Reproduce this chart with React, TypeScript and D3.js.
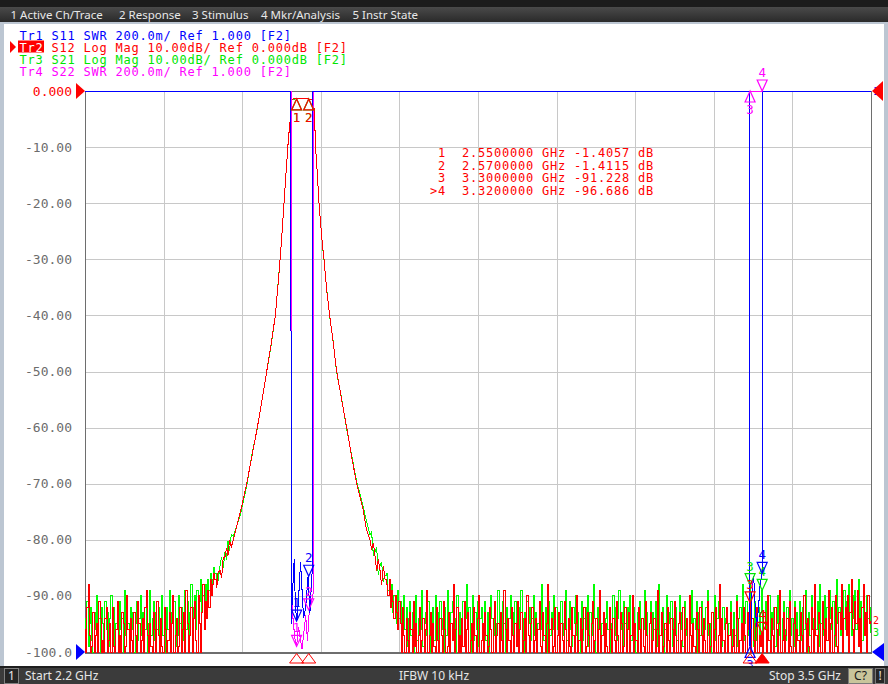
import React, { useEffect, useRef } from 'react';
import * as d3 from 'd3';

type Pt = [number, number];

// Stimulus settings
const startGHz = 2.2;
const stopGHz = 3.5;
const noiseStepGHz = 0.002;
const noiseLeftStartGHz = 2.2;
const noiseRightStartGHz = 2.7;

const menuItems = ['1 Active Ch/Trace', '2 Response', '3 Stimulus', '4 Mkr/Analysis', '5 Instr State'];

const traceHeaders = [
  { id: 'Tr1', text: ' S11 SWR 200.0m/ Ref 1.000 [F2]', color: '#0000ff' },
  { id: 'Tr2', text: ' S12 Log Mag 10.00dB/ Ref 0.000dB [F2]', color: '#ff0000' },
  { id: 'Tr3', text: ' S21 Log Mag 10.00dB/ Ref 0.000dB [F2]', color: '#00e600' },
  { id: 'Tr4', text: ' S22 SWR 200.0m/ Ref 1.000 [F2]', color: '#ff00ff' },
];

const yTickValues = [0, -10, -20, -30, -40, -50, -60, -70, -80, -90, -100];
const yTickLabels = ['0.000', '-10.00', '-20.00', '-30.00', '-40.00', '-50.00', '-60.00', '-70.00', '-80.00', '-90.00', '-100.0'];

// Filter skirt (GHz) shared by S12 / S21
const skirtFreqs = [
  2.418, 2.42, 2.4233, 2.426, 2.4285, 2.4316, 2.434, 2.4365, 2.439, 2.442, 2.4453,
  2.4564, 2.4675, 2.4757, 2.485, 2.4928, 2.5005, 2.5081, 2.5148, 2.5204, 2.5247, 2.5291, 2.5325, 2.5363, 2.5391,
  2.5407, 2.5424, 2.545, 2.55, 2.56, 2.57, 2.5763, 2.5776, 2.5792, 2.5816, 2.5842, 2.587, 2.5915, 2.5953, 2.5998,
  2.6047, 2.6107, 2.6163, 2.6246, 2.6329, 2.6411, 2.6494, 2.6603,
  2.665, 2.6714, 2.674, 2.677, 2.6797, 2.6825, 2.685, 2.6879, 2.6905, 2.6935, 2.6962,
];
const s12SkirtDb = [
  -88.5, -85.9, -85.4, -86.8, -83.2, -83, -81.4, -82.8, -80.1, -81.3, -80,
  -75.3, -70, -65.3, -60, -55.1, -50, -45, -40, -33.1, -27.1, -20, -14.6, -8.7, -5.5,
  -2.0, -1.45, -1.42, -1.4057, -1.4, -1.4115, -1.6, -2.2, -3.4, -10.5, -14.6, -20, -26, -30, -35.5,
  -40, -45, -50, -55.1, -60, -65.3, -70, -74.7,
  -77.9, -80, -81.8, -80.6, -83, -85.6, -83.4, -85.4, -88.1, -84.7, -87,
];
const s21SkirtDb = [
  -86.8, -87.4, -84.6, -83.1, -85.0, -82.2, -83.6, -80.2, -81.9, -79.0, -79.4,
  -75.8, -70.4, -65.0, -60.2, -55.0, -50.1, -45.2, -40.1, -33.0, -27.2, -20.1, -14.5, -8.8, -5.6,
  -2.1, -1.47, -1.44, -1.42, -1.41, -1.43, -1.62, -2.3, -3.5, -10.4, -14.7, -19.9, -26.1, -30.2, -35.4,
  -40.2, -44.8, -50.2, -54.9, -60.3, -65.0, -69.6, -74.2,
  -76.4, -79.2, -78.6, -82.8, -82.1, -81.5, -86.2, -84.6, -83.9, -87.5, -86.3,
];

// Noise floor below the passband (2.200 .. 2.416 GHz, 2 MHz apart)
const s12NoiseLeft = [
  -96, -100, -92, -88, -97, -100, -99, -93, -100, -97, -95, -100, -91, -94, -100, -98, -100, -94, -92, -100,
  -98, -95, -100, -92, -99, -100, -96, -91, -100, -97, -100, -93, -95, -100, -99, -90, -96, -100, -94, -98,
  -100, -93, -97, -100, -91, -95, -100, -98, -94, -100, -92, -89, -97, -100, -95, -99, -100, -93, -96, -100,
  -91, -97, -100, -94, -99, -100, -92, -96, -100, -98, -93, -100, -95, -90, -100, -97, -94, -100, -99, -92,
  -100, -96, -93, -100, -89, -95, -100, -97, -92, -100, -94, -91, -98, -100, -90, -95, -100, -93, -88, -96,
  -91, -94, -89, -92, -87, -90, -88, -86, -87,
];
const s21NoiseLeft = [
  -94, -97, -91, -99, -95, -92, -98, -100, -93, -96, -90, -97, -94, -100, -92, -95, -98, -91, -96, -93,
  -99, -94, -90, -97, -92, -100, -95, -93, -98, -91, -96, -94, -100, -89, -97, -93, -95, -99, -92, -96,
  -93, -100, -95, -91, -98, -94, -90, -97, -93, -99, -96, -92, -100, -95, -89, -97, -94, -91, -98, -93,
  -96, -92, -99, -94, -90, -97, -95, -100, -92, -96, -89, -98, -93, -95, -91, -99, -94, -97, -90, -95,
  -92, -98, -94, -89, -96, -91, -97, -93, -88, -95, -92, -90, -96, -89, -94, -91, -87, -93, -90, -92,
  -88, -91, -87, -89, -86, -90, -87, -85, -86,
];

// Noise floor above the passband (2.700 .. 3.500 GHz, 2 MHz apart)
const s12NoiseRight = [
  -88, -90, -87, -92, -89, -91, -94, -90, -93, -96, -91, -95, -100, -92, -97, -100, -94, -98, -100, -93,
  -96, -100, -91, -99, -95, -100, -97, -92, -100, -98, -94, -100, -96, -89, -100, -97, -93, -100, -95, -99,
  -100, -92, -98, -100, -94, -97, -100, -91, -96, -100, -99, -93, -100, -95, -98, -88, -100, -96, -92, -100,
  -97, -100, -94, -99, -91, -100, -96, -93, -100, -98, -95, -100, -92, -97, -100, -94, -90, -100, -98, -95,
  -100, -93, -97, -100, -99, -92, -96, -100, -94, -91, -100, -97, -95, -100, -93, -98, -100, -89, -96, -100,
  -94, -98, -100, -92, -97, -100, -95, -99, -91, -100, -96, -93, -100, -98, -94, -100, -90, -97, -100, -95,
  -92, -100, -98, -94, -100, -96, -91, -99, -100, -93, -97, -100, -95, -88, -100, -96, -94, -100, -99, -92,
  -100, -97, -93, -100, -95, -98, -100, -91, -96, -100, -94, -99, -100, -92, -97, -100, -95, -90, -100, -98,
  -94, -100, -96, -92, -100, -99, -93, -97, -100, -95, -91, -100, -98, -94, -100, -96, -89, -100, -97, -93,
  -100, -95, -99, -100, -92, -96, -100, -94, -98, -100, -91, -97, -100, -93, -95, -100, -99, -92, -100, -96,
  -93, -100, -97, -90, -100, -95, -98, -100, -92, -96, -100, -94, -99, -100, -91, -97, -100, -95, -93, -100,
  -98, -94, -100, -96, -89, -100, -97, -93, -100, -99, -95, -100, -92, -98, -100, -94, -96, -100, -91, -97,
  -100, -95, -93, -100, -98, -92, -100, -96, -94, -100, -90, -97, -100, -95, -99, -100, -93, -96, -100, -92,
  -97, -100, -94, -98, -100, -91, -95, -100, -99, -93, -100, -96, -92, -100, -97, -88, -100, -94, -98, -100,
  -95, -92, -100, -97, -93, -100, -99, -96, -100, -91, -94, -100, -98, -95, -100, -92, -97, -100, -93, -96,
  -91.2, -100, -94, -98, -100, -95, -92, -100, -97, -99, -96.7, -100, -93, -96, -100, -90, -98, -100, -94, -97,
  -100, -92, -96, -100, -95, -89, -100, -98, -93, -100, -97, -94, -100, -91, -99, -100, -95, -92, -100, -96,
  -98, -100, -93, -97, -100, -90, -95, -100, -94, -99, -100, -92, -96, -100, -88, -97, -100, -93, -95, -100,
  -91, -96, -100, -94, -98, -89, -100, -95, -92, -100, -97, -90, -99, -100, -93, -96, -88, -100, -94, -92,
  -97, -90, -100, -93, -87, -96, -100, -91, -95, -89, -99, -94, -100, -92, -88, -97, -93, -100, -90, -95,
  -94.5,
];
const s21NoiseRight = [
  -86, -89, -87, -91, -88, -93, -90, -92, -95, -89, -94, -91, -97, -93, -90, -96, -92, -99, -94, -91,
  -97, -93, -100, -95, -90, -98, -94, -92, -96, -89, -99, -95, -93, -97, -91, -100, -94, -96, -92, -98,
  -90, -95, -93, -99, -91, -96, -94, -100, -92, -97, -89, -95, -98, -93, -91, -96, -94, -100, -90, -97,
  -93, -99, -95, -91, -97, -94, -88, -96, -92, -100, -95, -90, -98, -93, -96, -91, -99, -94, -92, -97,
  -95, -91, -98, -93, -100, -96, -90, -94, -97, -92, -99, -95, -89, -96, -93, -98, -91, -95, -100, -92,
  -97, -94, -90, -96, -93, -99, -91, -95, -98, -92, -96, -89, -94, -100, -93, -97, -91, -95, -92, -98,
  -94, -90, -97, -93, -99, -95, -91, -96, -88, -94, -98, -92, -95, -100, -91, -97, -93, -96, -90, -99,
  -92, -96, -94, -100, -91, -95, -97, -93, -89, -98, -94, -91, -96, -99, -92, -95, -90, -97, -93, -100,
  -95, -91, -98, -94, -92, -96, -90, -99, -93, -97, -95, -88, -94, -100, -92, -96, -91, -98, -95, -93,
  -99, -94, -91, -96, -93, -100, -95, -90, -97, -92, -98, -94, -89, -96, -93, -99, -91, -95, -97, -92,
  -96, -90, -98, -94, -92, -97, -100, -93, -95, -91, -99, -94, -96, -89, -97, -93, -100, -95, -91, -98,
  -93, -96, -91, -99, -95, -88, -97, -94, -92, -100, -96, -90, -98, -93, -95, -91, -99, -94, -97, -92,
  -98, -95, -90, -96, -93, -99, -91, -97, -94, -100, -92, -95, -89, -98, -94, -96, -91, -100, -93, -97,
  -91, -99, -94, -96, -92, -89, -97, -95, -100, -93, -96, -90, -98, -94, -91, -97, -95, -99, -92, -96,
  -94, -92, -98, -95, -91, -100, -96, -93, -97, -90, -99, -94, -92, -96, -88, -98, -95, -91, -97, -93,
  -88, -96, -94, -99, -91, -95, -98, -92, -97, -93, -89, -100, -95, -91, -97, -94, -90, -98, -93, -96,
  -92, -99, -95, -90, -97, -93, -100, -94, -91, -96, -98, -92, -95, -89, -97, -94, -99, -91, -96, -93,
  -97, -91, -94, -98, -92, -96, -89, -95, -100, -93, -97, -90, -94, -98, -92, -96, -91, -99, -88, -95,
  -93, -97, -90, -95, -92, -98, -89, -94, -96, -91, -99, -93, -87, -95, -92, -97, -90, -94, -89, -96,
  -91, -95, -88, -93, -97, -90, -94, -89, -96, -92, -87, -95, -91, -98, -89, -93, -96, -90, -94, -92,
  -96.5,
];

// SWR traces (off-scale values sit above the 3.0 top line)
const s11Freqs = [
  2.2, 2.5405, 2.541, 2.543, 2.546, 2.548, 2.5505, 2.553, 2.5565, 2.559, 2.5615, 2.565, 2.569, 2.572, 2.5755, 2.576,
  3.2985, 3.299, 3.3, 3.302, 3.3035, 3.306, 3.3085, 3.311, 3.314, 3.317, 3.32, 3.3205, 3.5,
];
const s11Swr = [
  20, 20, 1.1, 1.2, 1.33, 1.16, 1.11, 1.18, 1.32, 1.22, 1.12, 1.16, 1.27, 1.14, 1.28, 20,
  20, 1.03, 1.02, 1.1, 1.24, 1.27, 1.16, 1.09, 1.16, 1.25, 1.28, 20, 20,
];
const s22Freqs = [2.2, 2.5412, 2.5418, 2.544, 2.547, 2.55, 2.553, 2.556, 2.559, 2.562, 2.565, 2.568, 2.571, 2.5745, 2.5782, 2.5788, 3.5];
const s22Swr = [20, 20, 1.2, 1.12, 1.05, 1.02, 1.09, 1.05, 1.01, 1.07, 1.13, 1.04, 1.15, 1.18, 1.22, 20, 20];

// Markers (active trace Tr2)
const markerFreqs = [2.55, 2.57, 3.3, 3.32];
const markerFreqText = ['2.5500000', '2.5700000', '3.3000000', '3.3200000'];
const markerDbText = ['-1.4057', '-1.4115', '-91.228', '-96.686'];

const zip = (a: number[], b: number[]): Pt[] => a.map((v, i) => [v, b[i]]);
const noisePoints = (start: number, vals: number[]): Pt[] => vals.map((v, i) => [start + i * noiseStepGHz, v]);

const App: React.FC = () => {
  const svgRef = useRef<SVGSVGElement>(null);

  useEffect(() => {
    document.body.style.margin = '0';
    const svg = d3.select(svgRef.current);
    svg.selectAll('*').remove();

    const W = 888;
    const H = 684;
    const plot = { left: 85, right: 871, top: 91, bottom: 652 };
    const mono = '"DejaVu Sans Mono", "Liberation Mono", monospace';
    const sans = '"Noto Sans", "Open Sans", sans-serif';

    const x = d3.scaleLinear().domain([startGHz, stopGHz]).range([plot.left, plot.right]);
    const yDb = d3.scaleLinear().domain([-100, 0]).range([plot.bottom, plot.top]).clamp(true);
    const ySwr = d3.scaleLinear().domain([1, 3]).range([plot.bottom, plot.top]).clamp(true);

    // window frame
    svg.append('rect').attr('width', W).attr('height', H).attr('fill', '#bcc6d2');
    const defs = svg.append('defs');
    const mg = defs.append('linearGradient').attr('id', 'menuGrad').attr('x1', 0).attr('y1', 0).attr('x2', 0).attr('y2', 1);
    mg.append('stop').attr('offset', 0).attr('stop-color', '#4a4a4a');
    mg.append('stop').attr('offset', 1).attr('stop-color', '#2a2a2a');
    defs.append('clipPath').attr('id', 'plotClip')
      .append('rect').attr('x', plot.left).attr('y', plot.top - 1)
      .attr('width', plot.right - plot.left + 1).attr('height', plot.bottom - plot.top + 2);

    svg.append('rect').attr('width', W).attr('height', 7).attr('fill', '#1c1c1c');
    svg.append('rect').attr('y', 7).attr('width', W).attr('height', 15).attr('fill', 'url(#menuGrad)');
    const menuX = [10.5, 119, 192, 261, 352.5];
    svg.append('g').selectAll('text').data(menuItems).join('text')
      .attr('x', (d, i) => menuX[i]).attr('y', 18.5)
      .style('font-family', sans).style('font-size', '11.5px').style('fill', '#e8e8e8')
      .text(d => d);

    svg.append('rect').attr('x', 4).attr('y', 24).attr('width', 880).attr('height', 642).attr('fill', '#ffffff');

    // trace header lines
    svg.append('rect').attr('x', 18).attr('y', 40.5).attr('width', 26).attr('height', 12).attr('fill', '#ff0000');
    svg.append('path').attr('d', 'M10,41L16,47L10,53Z').attr('fill', '#ff0000');
    const hdr = svg.append('g').style('font-family', mono).style('font-size', '12px').style('letter-spacing', '0.78px');
    traceHeaders.forEach((t, i) => {
      const line = hdr.append('text').attr('x', 19.5).attr('y', 39.5 + i * 12.2).attr('xml:space', 'preserve').style('white-space', 'pre');
      line.append('tspan').style('fill', t.id === 'Tr2' ? '#ffffff' : t.color).text(t.id);
      line.append('tspan').style('fill', t.color).text(t.text);
    });

    // grid
    const grid = svg.append('g').attr('stroke', '#c8c8c8').attr('stroke-width', 1).attr('shape-rendering', 'crispEdges');
    const vDivs = d3.range(1, 10).map(i => startGHz + (i * (stopGHz - startGHz)) / 10);
    grid.selectAll('line.v').data(vDivs).join('line').attr('class', 'v')
      .attr('x1', d => Math.round(x(d)) + 0.5).attr('x2', d => Math.round(x(d)) + 0.5)
      .attr('y1', plot.top).attr('y2', plot.bottom);
    grid.selectAll('line.h').data(yTickValues.slice(1, -1)).join('line').attr('class', 'h')
      .attr('x1', plot.left).attr('x2', plot.right)
      .attr('y1', d => Math.round(yDb(d)) + 0.5).attr('y2', d => Math.round(yDb(d)) + 0.5);

    // plot border
    svg.append('rect').attr('x', plot.left + 0.5).attr('y', plot.top + 0.5)
      .attr('width', plot.right - plot.left).attr('height', plot.bottom - plot.top)
      .attr('fill', 'none').attr('stroke', '#6e6e6e').attr('shape-rendering', 'crispEdges');
    svg.append('line').attr('x1', plot.left).attr('x2', plot.right + 1).attr('y1', plot.bottom + 1).attr('y2', plot.bottom + 1)
      .attr('stroke', '#6e6e6e').attr('shape-rendering', 'crispEdges');

    // y labels
    svg.append('g').selectAll('text').data(yTickValues).join('text')
      .attr('x', 72).attr('y', d => yDb(d) + 4.5).attr('text-anchor', 'end')
      .style('font-family', mono).style('font-size', '13px')
      .style('fill', (d, i) => (i === 0 ? '#ff0000' : '#6c6c6c'))
      .text((d, i) => yTickLabels[i]);

    // traces
    const traces = svg.append('g').attr('clip-path', 'url(#plotClip)');
    const stepDb = d3.line<Pt>().x(d => x(d[0])).y(d => yDb(d[1])).curve(d3.curveStep);
    const linDb = d3.line<Pt>().x(d => x(d[0])).y(d => yDb(d[1]));
    const linSwr = d3.line<Pt>().x(d => x(d[0])).y(d => ySwr(d[1]));

    const drawLogMag = (left: number[], skirt: number[], right: number[], color: string) => {
      const sk = zip(skirtFreqs, skirt);
      const segs: [Pt[], d3.Line<Pt>][] = [
        [[...noisePoints(noiseLeftStartGHz, left), sk[0]], stepDb],
        [sk, linDb],
        [[sk[sk.length - 1], ...noisePoints(noiseRightStartGHz, right)], stepDb],
      ];
      segs.forEach(([pts, gen]) => {
        traces.append('path').attr('d', gen(pts)).attr('fill', 'none').attr('stroke', color)
          .attr('stroke-width', 1).attr('shape-rendering', 'crispEdges');
      });
      return [...noisePoints(noiseLeftStartGHz, left), ...sk, ...noisePoints(noiseRightStartGHz, right)];
    };

    const s21Pts = drawLogMag(s21NoiseLeft, s21SkirtDb, s21NoiseRight, '#00ff00');
    drawLogMag(s12NoiseLeft, s12SkirtDb, s12NoiseRight, '#ff0000');
    const s22Pts = zip(s22Freqs, s22Swr);
    const s11Pts = zip(s11Freqs, s11Swr);
    traces.append('path').attr('d', linSwr(s22Pts)).attr('fill', 'none').attr('stroke', '#ff00ff').attr('shape-rendering', 'crispEdges');
    traces.append('path').attr('d', linSwr(s11Pts)).attr('fill', 'none').attr('stroke', '#0000ff').attr('shape-rendering', 'crispEdges');

    // markers on traces
    const mk = svg.append('g');
    const tri = (pts: Pt[]) => 'M' + pts.map(p => p.join(',')).join('L') + 'Z';
    const drawMarker = (cx: number, cy: number, label: string, color: string, flip: boolean) => {
      const w = 5;
      const h = 11;
      const d = flip
        ? tri([[cx, cy], [cx - w, cy + h], [cx + w, cy + h]])
        : tri([[cx, cy], [cx - w, cy - h], [cx + w, cy - h]]);
      mk.append('path').attr('d', d).attr('fill', 'none').attr('stroke', color).attr('stroke-width', 1.2);
      mk.append('text').attr('x', cx).attr('y', flip ? cy + h + 12 : cy - h - 3)
        .attr('text-anchor', 'middle').style('font-family', mono).style('font-size', '12.5px').style('fill', color)
        .text(label);
    };
    const nearest = (pts: Pt[], f: number) => d3.least(pts, p => Math.abs(p[0] - f)) as Pt;
    const flipped = new Set(['Tr3-1', 'Tr3-2', 'Tr2-1', 'Tr2-2', 'Tr4-3', 'Tr1-3']);

    markerFreqs.forEach((f, i) => {
      drawMarker(x(f), yDb(nearest(s21Pts, f)[1]), String(i + 1), '#00e600', flipped.has(`Tr3-${i + 1}`));
    });
    markerFreqs.forEach((f, i) => {
      drawMarker(x(f), yDb(parseFloat(markerDbText[i])), String(i + 1), '#ff0000', flipped.has(`Tr2-${i + 1}`));
    });
    markerFreqs.forEach((f, i) => {
      drawMarker(x(f), ySwr(nearest(s22Pts, f)[1]), String(i + 1), '#ff00ff', flipped.has(`Tr4-${i + 1}`));
    });
    markerFreqs.forEach((f, i) => {
      drawMarker(x(f), ySwr(nearest(s11Pts, f)[1]), String(i + 1), '#0000ff', flipped.has(`Tr1-${i + 1}`));
    });

    // marker readout table
    const tbl = svg.append('g').style('font-family', mono).style('font-size', '12px').style('letter-spacing', '0.78px').style('fill', '#ff0000');
    markerFreqs.forEach((f, i) => {
      const num = i === 3 ? '>4' : ` ${i + 1}`;
      tbl.append('text').attr('x', 430).attr('y', 157 + i * 12.6).attr('xml:space', 'preserve').style('white-space', 'pre')
        .text(`${num}  ${markerFreqText[i]} GHz ${markerDbText[i]} dB`);
    });

    // stimulus markers under the grid
    markerFreqs.forEach((f, i) => {
      const cx = x(f);
      svg.append('path').attr('d', tri([[cx, 653.5], [cx - 7, 663], [cx + 7, 663]]))
        .attr('fill', i === 3 ? '#ff0000' : 'none').attr('stroke', '#ff0000').attr('stroke-width', 1);
    });

    // trace end labels
    const endLbl = svg.append('g').style('font-family', mono).style('font-size', '10px');
    endLbl.append('text').attr('x', 873).attr('y', plot.top + 4).style('fill', '#0000ff').text('1');
    endLbl.append('text').attr('x', 873).attr('y', yDb(s12NoiseRight[s12NoiseRight.length - 1]) + 3).style('fill', '#ff0000').text('2');
    endLbl.append('text').attr('x', 873).attr('y', yDb(s21NoiseRight[s21NoiseRight.length - 1]) + 3.5).style('fill', '#00e600').text('3');

    // reference position arrows
    svg.append('path').attr('d', tri([[76, 83], [85, 91], [76, 99]])).attr('fill', '#ff0000');
    svg.append('path').attr('d', tri([[76, 644], [85, 652], [76, 660]])).attr('fill', '#0000ff');
    svg.append('path').attr('d', tri([[883, 81], [872, 91], [883, 101]])).attr('fill', '#ff0000');
    svg.append('path').attr('d', tri([[884, 643], [872, 652], [884, 661]])).attr('fill', '#0000ff');

    // status bar
    svg.append('rect').attr('y', 666).attr('width', W).attr('height', 2).attr('fill', '#1e1e1e');
    svg.append('rect').attr('y', 668).attr('width', W).attr('height', 16).attr('fill', '#3b3b3b');
    const sb = svg.append('g').style('font-family', sans).style('font-size', '12px');
    sb.append('rect').attr('x', 4.5).attr('y', 668.5).attr('width', 14).attr('height', 15).attr('fill', '#262626').attr('stroke', '#808080');
    sb.append('text').attr('x', 11.5).attr('y', 680).attr('text-anchor', 'middle').style('fill', '#e6e6e6').text('1');
    sb.append('text').attr('x', 25).attr('y', 680).style('fill', '#e6e6e6').text(`Start ${startGHz} GHz`);
    sb.append('text').attr('x', 434).attr('y', 680).attr('text-anchor', 'middle').style('fill', '#e6e6e6').text('IFBW 10 kHz');
    sb.append('text').attr('x', 769).attr('y', 680).style('fill', '#e6e6e6').text(`Stop ${stopGHz} GHz`);
    sb.append('rect').attr('x', 848.5).attr('y', 668.5).attr('width', 24).attr('height', 15).attr('fill', '#c9c59b').attr('stroke', '#7a7a7a');
    sb.append('text').attr('x', 860.5).attr('y', 680).attr('text-anchor', 'middle').style('fill', '#1a1a1a').text('C?');
    sb.append('rect').attr('x', 875.5).attr('y', 668.5).attr('width', 9).attr('height', 15).attr('fill', '#262626').attr('stroke', '#7a7a7a');
    sb.append('text').attr('x', 880).attr('y', 680).attr('text-anchor', 'middle').style('fill', '#e6e6e6').text('!');
  }, []);

  return <svg ref={svgRef} width={888} height={684} style={{ display: 'block' }} />;
};

export default App;
